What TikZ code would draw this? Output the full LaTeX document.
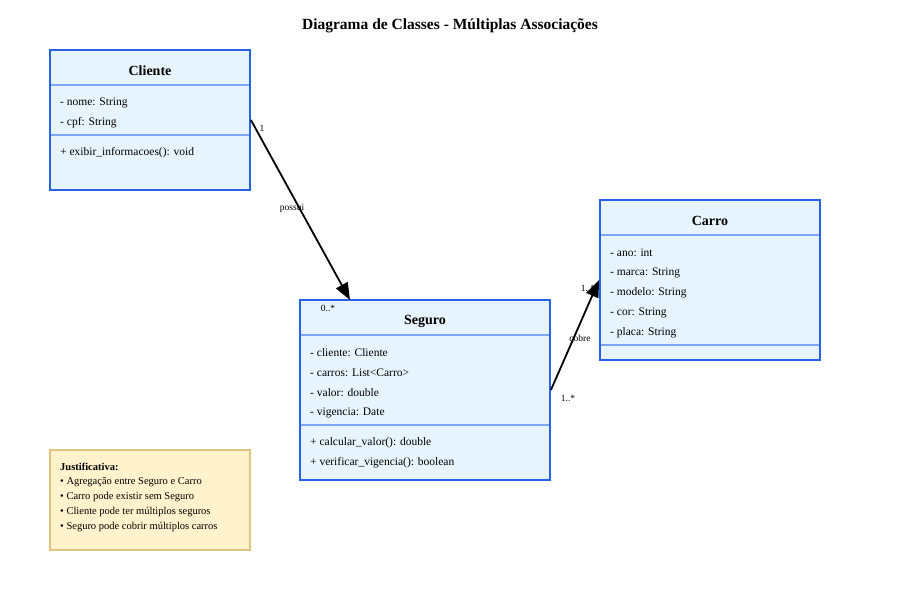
\documentclass[tikz,border=0pt]{standalone}
\usepackage{fontspec}
\setmainfont{Liberation Serif}
\usetikzlibrary{arrows.meta,calc}
\definecolor{boxfill}{HTML}{E8F4FD}
\definecolor{boxdraw}{HTML}{2563EB}
\definecolor{divline}{HTML}{7EA6F8}
\definecolor{notefill}{HTML}{FFF2CC}
\definecolor{notedraw}{HTML}{E3C47E}
\tikzset{
  classbox/.style={draw=boxdraw,fill=boxfill,line width=1.8pt,rectangle,inner sep=0pt},
  notebox/.style={draw=notedraw,fill=notefill,line width=1.2pt,rectangle,inner sep=0pt},
  divider/.style={draw=divline,line width=1.5pt},
  cname/.style={font=\fontsize{14}{16}\selectfont\bfseries,anchor=center},
  member/.style={font=\fontsize{11.5}{13}\selectfont,anchor=west,inner sep=0pt,yshift=-1.5pt},
  assoc/.style={draw=black,line width=1.8pt,-{Triangle[length=17pt,width=13pt]}},
  mult/.style={font=\fontsize{9.5}{11}\selectfont,inner sep=0pt,yshift=-1pt},
  notetxt/.style={font=\fontsize{10.5}{12}\selectfont,anchor=west,inner sep=0pt,yshift=-1pt},
}
\begin{document}
\begin{tikzpicture}[x=1pt,y=-1pt]
\useasboundingbox (0,0) rectangle (900,600);
\node[font=\fontsize{15.5}{18}\selectfont\bfseries] (title) at (450,26) {Diagrama de Classes - Múltiplas Associações};

% Cliente
\node[classbox,minimum width=200pt,minimum height=140pt] (cli) at (150,120) {};
\draw[divider] (51,85) -- (249,85);
\draw[divider] (51,135) -- (249,135);
\node[cname] (cliname) at (150,71) {Cliente};
\node[member] (cli1) at (60,101) {- nome: String};
\node[member] (cli2) at (60,121) {- cpf: String};
\node[member] (cli3) at (60,151) {+ exibir\_informacoes(): void};

% Seguro
\node[classbox,minimum width=250pt,minimum height=180pt] (seg) at (425,390) {};
\draw[divider] (301,335) -- (549,335);
\draw[divider] (301,425) -- (549,425);
\node[cname] (segname) at (425,321) {Seguro};
\node[member] (seg1) at (310,351) {- cliente: Cliente};
\node[member] (seg2) at (310,371) {- carros: List<Carro>};
\node[member] (seg3) at (310,391) {- valor: double};
\node[member] (seg4) at (310,411) {- vigencia: Date};
\node[member] (seg5) at (310,441) {+ calcular\_valor(): double};
\node[member] (seg6) at (310,461) {+ verificar\_vigencia(): boolean};

% Carro
\node[classbox,minimum width=220pt,minimum height=160pt] (car) at (710,280) {};
\draw[divider] (601,235) -- (819,235);
\draw[divider] (601,345) -- (819,345);
\node[cname] (carname) at (710,221) {Carro};
\node[member] (car1) at (610,251) {- ano: int};
\node[member] (car2) at (610,271) {- marca: String};
\node[member] (car3) at (610,291) {- modelo: String};
\node[member] (car4) at (610,311) {- cor: String};
\node[member] (car5) at (610,331) {- placa: String};

% Associations
\coordinate (segin) at (350,300);
\draw[assoc] (cli.east) -- (segin);
\node[mult] (m1) at (262,127) {1};
\node[mult] (l1) at (292,207) {possui};
\node[mult] (m2) at (328,307) {0..*};

\draw[assoc] (seg.east) -- (car.west);
\node[mult] (m3) at (588,287) {1..*};
\node[mult] (l2) at (580,337) {cobre};
\node[mult] (m4) at (568,397) {1..*};

% Note
\node[notebox,minimum width=200pt,minimum height=100pt] (note) at (150,500) {};
\node[notetxt,font=\fontsize{10.5}{12}\selectfont\bfseries] (n0) at (60,466) {Justificativa:};
\node[notetxt] (n1) at (60,481) {• Agregação entre Seguro e Carro};
\node[notetxt] (n2) at (60,496) {• Carro pode existir sem Seguro};
\node[notetxt] (n3) at (60,511) {• Cliente pode ter múltiplos seguros};
\node[notetxt] (n4) at (60,526) {• Seguro pode cobrir múltiplos carros};
\end{tikzpicture}
\end{document}
